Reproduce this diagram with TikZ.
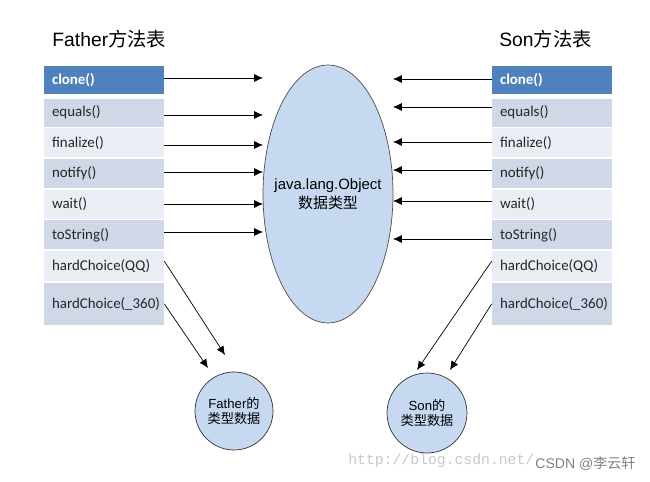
\documentclass[tikz,border=0pt]{standalone}
\usepackage{fontspec}
\setmainfont{Liberation Sans}
\newfontfamily\cjk{Noto Sans CJK SC}
\newfontfamily\tabfont{Carlito}
\newfontfamily\wmfont{Liberation Mono}
\usetikzlibrary{positioning, arrows.meta, shapes.geometric}
\definecolor{hdrblue}{HTML}{4F81BD}
\definecolor{rowdark}{HTML}{D0D8E8}
\definecolor{rowlight}{HTML}{E9EDF4}
\definecolor{typefill}{HTML}{C6D9F1}
\tikzset{
  -{Latex[length=5pt,width=4.5pt]}, semithick,
  row/.style={
    rectangle, inner xsep=0.16cm, inner ysep=0pt, text width=2.08cm,
    minimum height=0.58cm, align=left, text=black!85,
    font=\tabfont\fontsize{8.5}{10}\selectfont
  },
  hdr/.style={row, fill=hdrblue, text=white, font=\tabfont\bfseries\fontsize{8.5}{10}\selectfont},
  rowd/.style={row, fill=rowdark},
  rowl/.style={row, fill=rowlight},
  typeball/.style={circle, draw=black!80, fill=typefill, inner sep=0pt, align=center,
    font=\fontsize{7.5}{9}\selectfont}
}

\begin{document}
\begin{tikzpicture}[x=0.02cm, y=-0.02cm]
  \useasboundingbox (0,0) rectangle (650,482);

  % titles
  \node[anchor=west, inner sep=0pt, font=\fontsize{11}{13}\selectfont] (ftitle) at (52,39) {Father{\cjk 方法表}};
  \node[anchor=west, inner sep=0pt, font=\fontsize{11}{13}\selectfont] (stitle) at (499,39) {Son{\cjk 方法表}};

  % Father method table
  \node[hdr, minimum height=0.56cm] (fclone) at (104,80) {clone()};
  \node[rowd, minimum height=0.56cm, below=0.08cm of fclone] (fequals) {equals()};
  \node[rowl, below=0.02cm of fequals] (ffinalize) {finalize()};
  \node[rowd, below=0.02cm of ffinalize] (fnotify) {notify()};
  \node[rowl, below=0.02cm of fnotify] (fwait) {wait()};
  \node[rowd, below=0.02cm of fwait] (ftoString) {toString()};
  \node[rowl, minimum height=0.6cm, below=0.02cm of ftoString] (fqq) {hardChoice(QQ)};
  \node[rowd, minimum height=0.84cm, below=0.02cm of fqq] (f360) {hardChoice(\_360)};

  % Son method table
  \node[hdr, minimum height=0.56cm] (sclone) at (552,80) {clone()};
  \node[rowd, minimum height=0.56cm, below=0.08cm of sclone] (sequals) {equals()};
  \node[rowl, below=0.02cm of sequals] (sfinalize) {finalize()};
  \node[rowd, below=0.02cm of sfinalize] (snotify) {notify()};
  \node[rowl, below=0.02cm of snotify] (swait) {wait()};
  \node[rowd, below=0.02cm of swait] (stoString) {toString()};
  \node[rowl, minimum height=0.6cm, below=0.02cm of stoString] (sqq) {hardChoice(QQ)};
  \node[rowd, minimum height=0.84cm, below=0.02cm of sqq] (s360) {hardChoice(\_360)};

  % shared type data
  \node[ellipse, draw=black!70, fill=typefill, inner sep=0pt,
        minimum width=2.6cm, minimum height=5.16cm] (obj) at (328,194) {};
  \node[align=center, inner sep=0pt, font=\fontsize{8.5}{10.5}\selectfont] (objtext) at (obj.center)
        {java.lang.Object\\{\cjk 数据类型}};
  \node[typeball, minimum size=1.56cm] (ftype) at (234,411) {Father{\cjk 的}\\{\cjk 类型数据}};
  \node[typeball, minimum size=1.6cm] (stype) at (427,413) {Son{\cjk 的}\\{\cjk 类型数据}};

  % inherited methods point at Object
  \foreach \r/\y in {clone/78, equals/115, finalize/145, notify/172, wait/204, toString/232} {
    \coordinate (fend\r) at (263,\y);
    \draw (f\r.east |- fend\r) -- (fend\r);
  }
  \foreach \r/\y in {clone/79, equals/107, finalize/142, notify/170, wait/201, toString/239} {
    \coordinate (send\r) at (393,\y);
    \draw (s\r.west |- send\r) -- (send\r);
  }

  % own methods point at own type data
  \coordinate (fqqend) at (225,355);
  \coordinate (f360end) at (208,368);
  \coordinate (sqqend) at (417,370);
  \coordinate (s360end) at (450,370);
  \draw ([yshift=0.1cm]fqq.east) -- (fqqend);
  \draw (f360.east) -- (f360end);
  \draw ([yshift=0.1cm]sqq.west) -- (sqqend);
  \draw (s360.west) -- (s360end);

  % watermark
  \node[anchor=west, inner sep=0pt, text=black!22, font=\wmfont\fontsize{8.4}{10}\selectfont] (wmurl) at (348,461) {http://blog.csdn.net/};
  \node[anchor=west, inner sep=0pt, text=black!50, font=\fontsize{8}{10}\selectfont] (wmtag) at (535,464) {CSDN @{\cjk 李云轩}};
\end{tikzpicture}
\end{document}
